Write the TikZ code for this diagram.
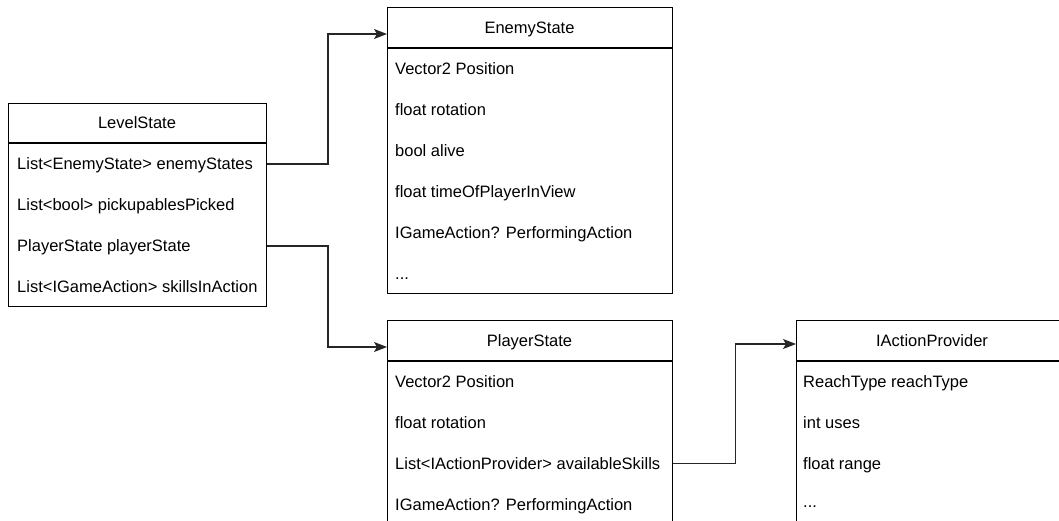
\documentclass[tikz,border=0pt]{standalone}
\usepackage{fontspec}
\setmainfont{Liberation Sans}
\usetikzlibrary{arrows.meta}

\begin{document}
\begin{tikzpicture}[x=1pt,y=-1pt,
  classbox/.style={draw=black, line width=1.3pt, fill=white, inner sep=0pt, anchor=north west},
  hdr/.style={draw=black, line width=1.3pt},
  title/.style={inner sep=0pt, text height=11.8pt, text depth=0pt, font=\fontsize{16.5}{19}\selectfont},
  field/.style={anchor=west, inner sep=0pt, text height=11.8pt, text depth=0pt, font=\fontsize{16.5}{19}\selectfont},
  conn/.style={draw=black!85, line width=1.3pt, -{Stealth[length=13pt, width=10pt, inset=3pt]}}
]
\useasboundingbox (0,0) rectangle (1059,520);
\clip (0,0) rectangle (1059,520);
\fill[white] (0,0) rectangle (1059,520);

% LevelState
\node[classbox, minimum width=258pt, minimum height=203pt] (ls) at (8,103) {};
\draw[hdr] (ls.west |- 0,143) -- (ls.east |- 0,143);
\node[title] (ls-t) at (137,123) {LevelState};
\node[field] (ls-1) at (17,164)   {List<EnemyState> enemyStates};
\node[field] (ls-2) at (17,205)   {List<bool> pickupablesPicked};
\node[field] (ls-3) at (17,246)   {PlayerState playerState};
\node[field] (ls-4) at (17,287)   {List<IGameAction> skillsInAction};

% EnemyState
\node[classbox, minimum width=285pt, minimum height=286pt] (es) at (387,7) {};
\draw[hdr] (es.west |- 0,48) -- (es.east |- 0,48);
\node[title] (es-t) at (529.5,27.5) {EnemyState};
\node[field] (es-1) at (395,69)  {Vector2 Position};
\node[field] (es-2) at (395,110) {float rotation};
\node[field] (es-3) at (395,151) {bool alive};
\node[field] (es-4) at (395,192) {float timeOfPlayerInView};
\node[field] (es-5) at (395,233) {IGameAction? PerformingAction};
\node[field] (es-6) at (395,274) {...};

% PlayerState
\node[classbox, minimum width=285pt, minimum height=206pt] (ps) at (387,320) {};
\draw[hdr] (ps.west |- 0,361) -- (ps.east |- 0,361);
\node[title] (ps-t) at (529.5,340.5) {PlayerState};
\node[field] (ps-1) at (395,381.5) {Vector2 Position};
\node[field] (ps-2) at (395,422.5) {float rotation};
\node[field] (ps-3) at (395,463.5) {List<IActionProvider> availableSkills};
\node[field] (ps-4) at (395,504.5) {IGameAction? PerformingAction};

% IActionProvider
\node[classbox, minimum width=272pt, minimum height=206pt] (ia) at (796,320) {};
\draw[hdr] (ia.west |- 0,361) -- (ia.east |- 0,361);
\node[title] (ia-t) at (932,340.5) {IActionProvider};
\node[field] (ia-1) at (803,381.5) {ReachType reachType};
\node[field] (ia-2) at (803,422.5) {int uses};
\node[field] (ia-3) at (803,463.5) {float range};
\node[field] (ia-4) at (803,501.5) {...};

% connector end points on the class boxes
\coordinate (es-in) at ([yshift=-27pt]es.north west);
\coordinate (ps-in) at ([yshift=-27pt]ps.north west);
\coordinate (ia-in) at ([yshift=-24pt]ia.north west);

% associations
\draw[conn] (ls-1 -| ls.east) -- ++(60.7,0) |- (es-in);
\draw[conn] (ls-3 -| ls.east) -- ++(60.7,0) |- (ps-in);
\draw[conn] (ps-3 -| ps.east) -- ++(62,0) |- (ia-in);
\end{tikzpicture}
\end{document}
